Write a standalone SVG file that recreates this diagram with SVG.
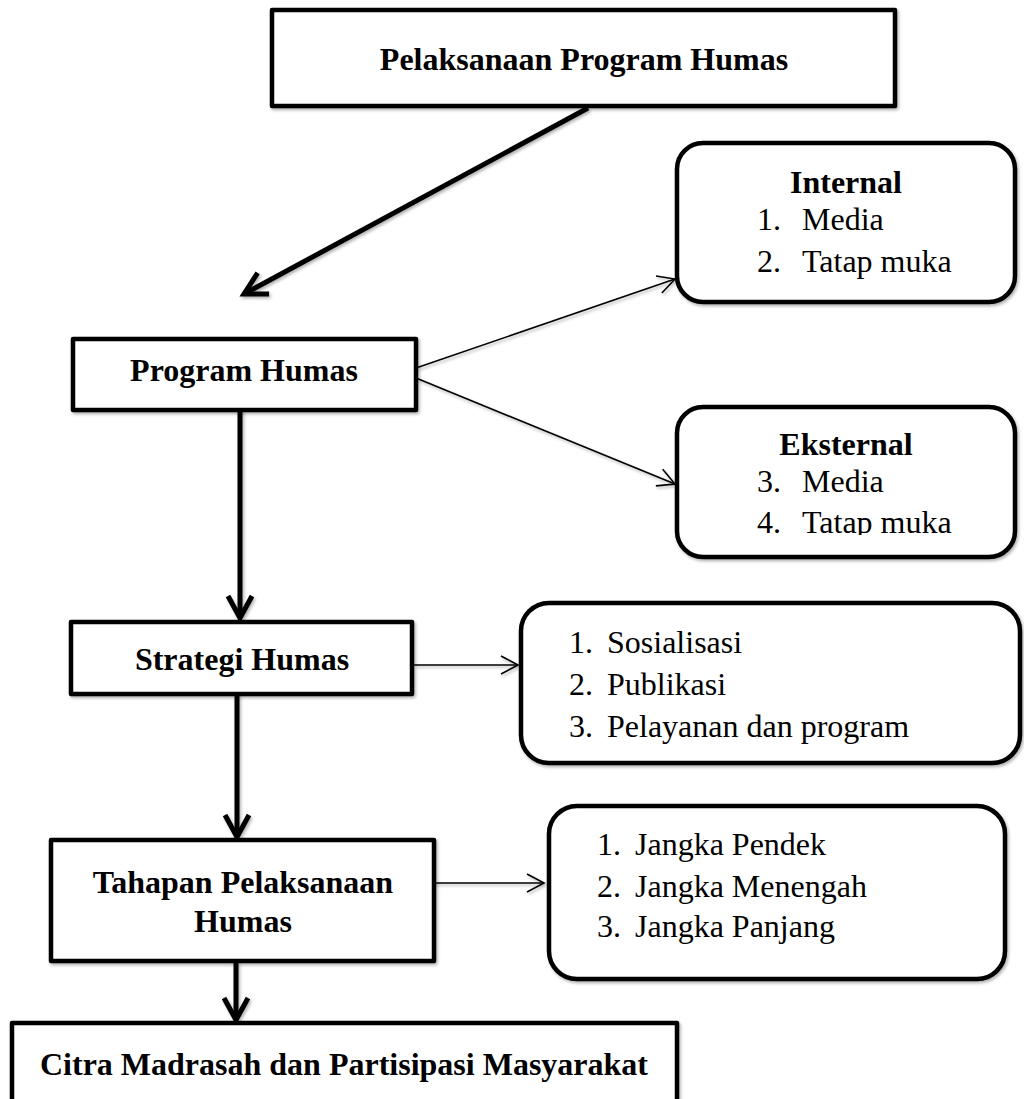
<svg xmlns="http://www.w3.org/2000/svg" width="1024" height="1099" viewBox="0 0 1024 1099">
  <style>
    text { font-family: "Liberation Serif", "Times New Roman", serif; font-size: 32px; fill: #000; }
    .title { font-weight: bold; text-anchor: middle; }
    .box { fill: #fff; stroke: #000; stroke-width: 4.5; stroke-linejoin: round; }
    .rbox { fill: #fff; stroke: #000; stroke-width: 4.5; }
    .thick { fill: none; stroke: #000; stroke-width: 5; }
    .thin { fill: none; stroke: #000; stroke-width: 1.6; }
  </style>
  <defs>
    <filter id="shadow" x="-10%" y="-10%" width="130%" height="130%">
      <feDropShadow dx="1.5" dy="2" stdDeviation="1.5" flood-color="#000" flood-opacity="0.3"/>
    </filter>
    <marker id="headThick" markerUnits="userSpaceOnUse" markerWidth="40" markerHeight="40" orient="auto" overflow="visible">
      <path d="M-22,-12 L0,0 L-22,12" fill="none" stroke="#000" stroke-width="5" stroke-linejoin="miter"/>
    </marker>
    <marker id="headThin" markerUnits="userSpaceOnUse" markerWidth="30" markerHeight="30" orient="auto" overflow="visible">
      <path d="M-17,-9 L0,0 L-17,9" fill="none" stroke="#000" stroke-width="1.6"/>
    </marker>
    <clipPath id="clipEksternal">
      <rect x="677" y="407" width="338" height="128"/>
    </clipPath>
  </defs>

  <!-- connectors -->
  <g id="connectors" filter="url(#shadow)">
    <line class="thick" x1="588" y1="108" x2="244" y2="294" marker-end="url(#headThick)"/>
    <line class="thin" x1="416" y1="368" x2="675" y2="279" marker-end="url(#headThin)"/>
    <line class="thin" x1="416" y1="378" x2="675" y2="484" marker-end="url(#headThin)"/>
    <line class="thick" x1="240" y1="410" x2="240" y2="618" marker-end="url(#headThick)"/>
    <line class="thin" x1="414" y1="665" x2="518" y2="665" marker-end="url(#headThin)"/>
    <line class="thick" x1="237" y1="694" x2="237" y2="837" marker-end="url(#headThick)"/>
    <line class="thin" x1="430" y1="883" x2="544" y2="883" marker-end="url(#headThin)"/>
    <line class="thick" x1="236" y1="962" x2="236" y2="1020" marker-end="url(#headThick)"/>
  </g>

  <!-- top node -->
  <g id="pelaksanaan">
    <rect class="box" x="272" y="10" width="623" height="96" filter="url(#shadow)"/>
    <text class="title" x="584" y="70">Pelaksanaan Program Humas</text>
  </g>

  <g id="program-humas">
    <rect class="box" x="73" y="339" width="343" height="71" filter="url(#shadow)"/>
    <text class="title" x="244" y="381">Program Humas</text>
  </g>

  <g id="internal">
    <rect class="rbox" x="677" y="143" width="338" height="159" rx="26" filter="url(#shadow)"/>
    <text class="title" x="846" y="193">Internal</text>
    <text x="757" y="230">1.</text>
    <text x="802" y="230">Media</text>
    <text x="757" y="272">2.</text>
    <text x="802" y="272">Tatap muka</text>
  </g>

  <g id="eksternal">
    <rect class="rbox" x="677" y="407" width="338" height="150" rx="26" filter="url(#shadow)"/>
    <text class="title" x="846" y="455">Eksternal</text>
    <text x="757" y="492">3.</text>
    <text x="802" y="492">Media</text>
    <g clip-path="url(#clipEksternal)">
      <text x="757" y="533">4.</text>
      <text x="802" y="533">Tatap muka</text>
    </g>
  </g>

  <g id="strategi-humas">
    <rect class="box" x="71" y="622" width="341" height="72" filter="url(#shadow)"/>
    <text class="title" x="242" y="670">Strategi Humas</text>
  </g>

  <g id="strategi-list">
    <rect class="rbox" x="521" y="603" width="499" height="160" rx="28" filter="url(#shadow)"/>
    <text x="569" y="653">1.</text>
    <text x="607" y="653">Sosialisasi</text>
    <text x="569" y="695">2.</text>
    <text x="607" y="695">Publikasi</text>
    <text x="569" y="737">3.</text>
    <text x="607" y="737">Pelayanan dan program</text>
  </g>

  <g id="tahapan">
    <rect class="box" x="51" y="840" width="383" height="121" filter="url(#shadow)"/>
    <text class="title" x="243" y="893">Tahapan Pelaksanaan</text>
    <text class="title" x="243" y="932">Humas</text>
  </g>

  <g id="tahapan-list">
    <rect class="rbox" x="549" y="806" width="456" height="173" rx="28" filter="url(#shadow)"/>
    <text x="597" y="855">1.</text>
    <text x="635" y="855">Jangka Pendek</text>
    <text x="597" y="897">2.</text>
    <text x="635" y="897">Jangka Menengah</text>
    <text x="597" y="937">3.</text>
    <text x="635" y="937">Jangka Panjang</text>
  </g>

  <g id="citra">
    <rect class="box" x="12" y="1023" width="665" height="110" filter="url(#shadow)"/>
    <text class="title" x="344" y="1075">Citra Madrasah dan Partisipasi Masyarakat</text>
  </g>
</svg>
